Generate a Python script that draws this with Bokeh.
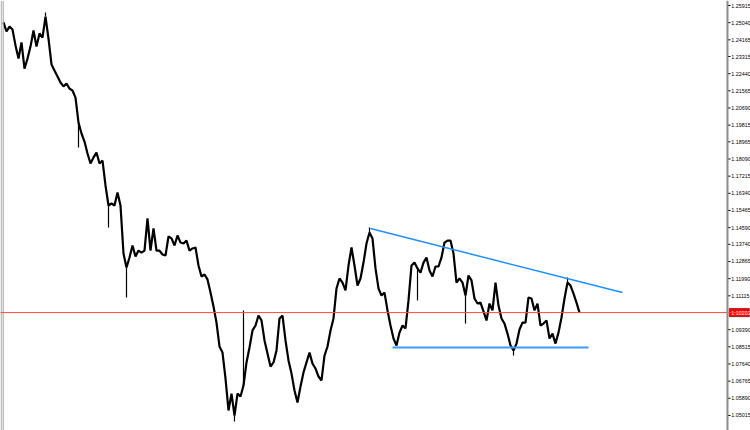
from bokeh.plotting import figure
from bokeh.models import Range1d, Span, ColumnDataSource
from bokeh.core.properties import value
from bokeh.embed import file_html
from bokeh.resources import INLINE

# closing prices, one per bar
close = [
    1.2505, 1.2459, 1.2484, 1.2469, 1.2388, 1.2321, 1.2403, 1.2270, 1.2321, 1.2382,
    1.2464, 1.2382, 1.2449, 1.2428, 1.2535, 1.2423, 1.2291, 1.2260, 1.2230, 1.2199,
    1.2179, 1.2194, 1.2168, 1.2158, 1.2122, 1.1995, 1.1939, 1.1898, 1.1837, 1.1786,
    1.1817, 1.1842, 1.1786, 1.1801, 1.1674, 1.1572, 1.1582, 1.1572, 1.1638, 1.1572,
    1.1327, 1.1256, 1.1307, 1.1368, 1.1312, 1.1342, 1.1332, 1.1342, 1.1506, 1.1342,
    1.1455, 1.1342, 1.1342, 1.1322, 1.1317, 1.1414, 1.1404, 1.1368, 1.1419, 1.1383,
    1.1378, 1.1393, 1.1342, 1.1353, 1.1358, 1.1266, 1.1210, 1.1220, 1.1195, 1.1128,
    1.1057, 1.0975, 1.0853, 1.0822, 1.0690, 1.0527, 1.0613, 1.0501, 1.0613, 1.0598,
    1.0654, 1.0772, 1.0848, 1.0935, 1.0960, 1.1011, 1.0986, 1.0884, 1.0817, 1.0751,
    1.0772, 1.0833, 1.0996, 1.1011, 1.0884, 1.0782, 1.0715, 1.0629, 1.0568, 1.0649,
    1.0721, 1.0772, 1.0822, 1.0766, 1.0741, 1.0700, 1.0680, 1.0807, 1.0853, 1.0935,
    1.0996, 1.1149, 1.1200, 1.1179, 1.1139, 1.1266, 1.1358, 1.1266, 1.1164, 1.1200,
    1.1281, 1.1378, 1.1434, 1.1404, 1.1251, 1.1149, 1.1113, 1.1128, 1.1037, 1.0960,
    1.0894, 1.0858, 1.0924, 1.0960, 1.0945, 1.1088, 1.1266, 1.1281, 1.1251, 1.1230,
    1.1281, 1.1307, 1.1241, 1.1210, 1.1261, 1.1261, 1.1307, 1.1383, 1.1393, 1.1393,
    1.1327, 1.1179, 1.1200, 1.1179, 1.1113, 1.1215, 1.1190, 1.1098, 1.1072, 1.1077,
    1.1032, 1.0986, 1.1072, 1.1037, 1.1179, 1.1062, 1.0996, 1.0970, 1.0919, 1.0858,
    1.0833, 1.0868, 1.0940, 1.0975, 1.0975, 1.1103, 1.1098, 1.1037, 1.1072, 1.0960,
    1.0970, 1.0986, 1.0894, 1.0919, 1.0868, 1.0924, 1.1001, 1.1098, 1.1179, 1.1164,
    1.1123, 1.1077, 1.1026,
]
bars = list(range(len(close)))

# bars with long wicks: bar index and the wick extreme
spike_bar = [14, 25, 35, 41, 77, 80, 122, 138, 154, 170, 188]
spike_ext = [1.2556, 1.1868, 1.1460, 1.1103, 1.0471, 1.1037, 1.1460, 1.1088, 1.0970, 1.0807, 1.1205]

# drawn lines
trend_bar = [122.33, 206.33]
trend_price = [1.14546, 1.11284]
support_bar = [129.67, 195.0]
support_price = [1.0848, 1.0848]
current_price = 1.10261

# price scale
tick_values = [1.25915, 1.25040, 1.24165, 1.23315, 1.22440, 1.21565, 1.20690, 1.19815,
               1.18965, 1.18090, 1.17215, 1.16340, 1.15465, 1.14590, 1.13740, 1.12865,
               1.11990, 1.11115, 1.09390, 1.08515, 1.07640, 1.06765, 1.05890, 1.05015]
tick_labels = [f"{t:.5f}" for t in tick_values]
scale_bar = 241.33   # bar position of the price scale line

p = figure(width=750, height=430, output_backend="svg", toolbar_location=None,
           x_axis_location=None, y_axis_location=None,
           x_range=Range1d(-1, 249), y_range=Range1d(1.04249, 1.26170),
           min_border_left=0, min_border_right=0, min_border_top=0, min_border_bottom=0)
p.grid.visible = False
p.outline_line_color = None
p.background_fill_color = "white"
p.border_fill_color = "white"

# left border
p.add_layout(Span(location=-0.77, dimension="height", line_color="#a0a0a0", line_width=1))
p.add_layout(Span(location=-0.1, dimension="height", line_color="#a0a0a0", line_width=1))

# current price line
p.add_layout(Span(location=current_price, dimension="width", line_color="#ff4a4a", line_width=1))

# price path
p.line(bars, close, line_color="black", line_width=2.2)
src = ColumnDataSource(dict(x=spike_bar, y0=[close[i] for i in spike_bar], y1=spike_ext))
p.segment(x0="x", y0="y0", x1="x", y1="y1", source=src, line_color="black", line_width=1.2)

# trend lines
p.line(trend_bar, trend_price, line_color="#1e90ff", line_width=1.5)
p.line(support_bar, support_price, line_color="#3d9bff", line_width=1.8)

# price scale on the right
p.add_layout(Span(location=scale_bar, dimension="height", line_color="#8c8c8c", line_width=2))
tsrc = ColumnDataSource(dict(x0=[scale_bar] * len(tick_values), x1=[scale_bar + 1.0] * len(tick_values),
                             xt=[scale_bar + 1.25] * len(tick_values), y=tick_values, label=tick_labels))
p.segment(x0="x0", y0="y", x1="x1", y1="y", source=tsrc, line_color="black", line_width=1)
p.text(x="xt", y="y", text="label", source=tsrc, text_font=value("Liberation Sans"),
       text_font_size="5.4px", text_color="black", text_baseline="middle", text_align="left")

# current price box
p.quad(left=[scale_bar + 0.6], right=[scale_bar + 7.3], bottom=[current_price - 0.0021],
       top=[current_price + 0.0021], fill_color="#ff0000", line_color="#500000", line_width=0.6)
p.text(x=[scale_bar + 1.25], y=[current_price], text=[f"{current_price:.5f}"],
       text_font=value("Liberation Sans"), text_font_size="5.4px", text_color="white",
       text_baseline="middle", text_align="left")

open("out.html", "w").write(file_html(p, INLINE))
